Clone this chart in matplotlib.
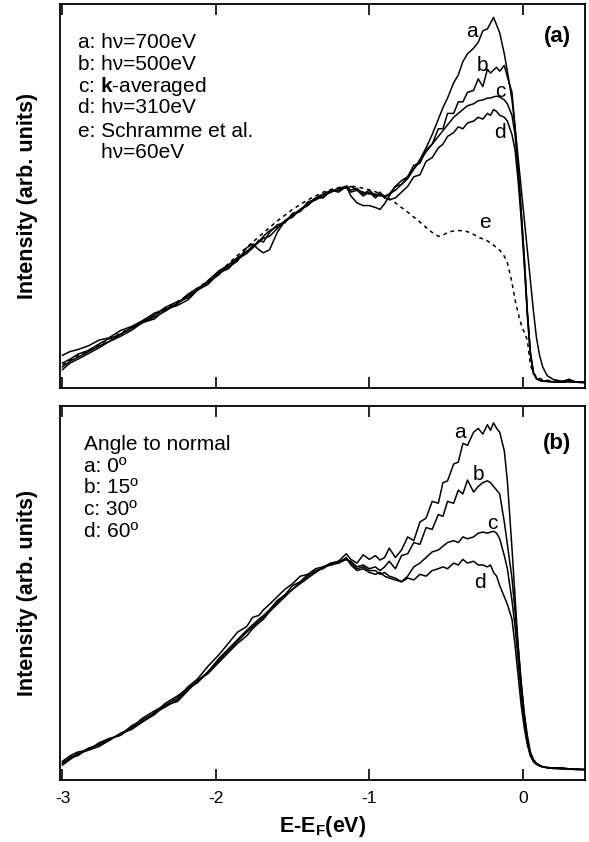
import matplotlib
matplotlib.use('Agg')
import matplotlib.pyplot as plt

plt.rcParams['font.family'] = ['Liberation Sans', 'DejaVu Sans']
plt.rcParams['mathtext.fontset'] = 'custom'
plt.rcParams['mathtext.rm'] = 'Liberation Sans'
plt.rcParams['mathtext.bf'] = 'Liberation Sans:bold'
plt.rcParams['axes.unicode_minus'] = False

# shared energy grid (eV, relative to E_F)
energy = [-3.00, -2.95, -2.90, -2.83, -2.76, -2.70, -2.62, -2.55, -2.48, -2.40,
          -2.33, -2.25, -2.18, -2.12, -2.05, -1.98, -1.92, -1.86, -1.80, -1.76,
          -1.72, -1.69, -1.65, -1.60, -1.55, -1.50, -1.45, -1.40, -1.35, -1.30,
          -1.25, -1.20, -1.15, -1.12, -1.08, -1.04, -1.00, -0.96, -0.93, -0.90,
          -0.87, -0.83, -0.79, -0.75, -0.71, -0.67, -0.63, -0.59, -0.55, -0.52,
          -0.49, -0.45, -0.42, -0.39, -0.36, -0.32, -0.29, -0.26, -0.23, -0.21,
          -0.19, -0.17, -0.15, -0.12, -0.10, -0.07, -0.05, -0.03, -0.01, 0.01,
          0.03, 0.05, 0.07, 0.09, 0.11, 0.13, 0.16, 0.20, 0.25, 0.30,
          0.35, 0.40]

# panel (a): photon energy dependence
top_a = [8.5, 9.5, 10.0, 11.0, 12.5, 13.0, 15.0, 16.0, 17.5, 19.5,
         20.5, 22.0, 24.5, 26.0, 27.5, 30.0, 31.5, 33.0, 36.5, 37.5,
         36.0, 35.2, 36.0, 40.5, 43.5, 44.5, 46.5, 47.5, 49.5, 50.5,
         51.0, 52.0, 52.5, 50.0, 48.2, 47.5, 47.5, 47.0, 46.5, 48.0,
         50.0, 52.5, 53.0, 54.5, 57.0, 59.5, 62.5, 66.0, 70.0, 73.0,
         75.5, 79.5, 81.5, 85.0, 87.0, 88.5, 90.0, 93.0, 93.5, 95.0,
         96.5, 94.5, 92.5, 87.0, 82.5, 75.0, 68.0, 60.0, 52.0, 44.0,
         36.0, 28.0, 20.0, 13.0, 8.5, 5.5, 3.2, 2.2, 1.8, 1.9,
         1.6, 1.6]
top_b = [6.5, 7.5, 8.8, 9.8, 11.5, 12.8, 14.0, 15.8, 17.0, 19.0,
         21.0, 22.5, 23.5, 25.5, 28.0, 30.5, 32.0, 33.5, 35.5, 36.5,
         38.0, 39.0, 39.5, 41.5, 43.5, 45.0, 46.0, 48.5, 49.0, 50.5,
         51.5, 51.5, 52.5, 51.5, 52.0, 50.5, 51.5, 50.0, 51.0, 49.5,
         50.5, 52.5, 54.0, 55.0, 58.0, 58.5, 62.0, 63.5, 67.5, 67.5,
         71.5, 71.5, 74.5, 74.5, 77.0, 77.5, 80.5, 78.5, 83.0, 82.0,
         82.8, 83.5, 82.5, 84.0, 81.0, 77.0, 68.0, 57.0, 46.0, 34.0,
         20.0, 9.0, 4.0, 2.5, 2.0, 1.8, 1.7, 1.6, 1.5, 2.3,
         1.5, 1.4]
top_c = [5.5, 7.0, 8.0, 9.5, 11.0, 12.0, 14.0, 15.5, 17.0, 18.5,
         20.0, 22.0, 24.0, 25.5, 27.5, 29.5, 32.0, 34.0, 35.5, 37.0,
         38.0, 39.5, 41.0, 42.0, 43.5, 45.0, 46.5, 48.0, 49.0, 50.0,
         51.0, 52.0, 52.0, 52.5, 51.5, 51.0, 50.5, 50.5, 50.0, 50.0,
         50.5, 51.5, 53.0, 55.0, 57.0, 59.0, 61.5, 63.5, 65.5, 67.0,
         68.5, 70.5, 71.5, 72.5, 73.5, 74.0, 74.8, 75.0, 75.5, 75.5,
         75.8, 76.0, 75.8, 75.0, 74.0, 71.0, 66.0, 57.0, 46.0, 34.0,
         20.0, 9.5, 4.0, 2.5, 2.0, 1.8, 1.7, 1.6, 1.5, 1.6,
         1.5, 1.4]
top_d = [4.8, 6.5, 7.5, 9.0, 10.5, 12.0, 13.5, 15.0, 17.0, 18.0,
         20.5, 21.5, 23.0, 25.5, 27.0, 30.0, 31.0, 33.5, 35.0, 36.5,
         38.5, 38.0, 40.5, 42.5, 43.0, 45.5, 46.0, 48.0, 49.5, 49.5,
         51.5, 51.0, 52.5, 51.0, 51.5, 50.0, 51.0, 49.5, 50.5, 49.5,
         49.0, 49.5, 51.0, 52.5, 55.0, 55.5, 59.0, 60.0, 62.5, 63.5,
         65.5, 66.5, 68.0, 67.5, 69.0, 69.5, 70.5, 70.0, 71.5, 71.0,
         72.5, 72.0, 71.0, 70.5, 69.5, 66.0, 62.0, 54.0, 44.0, 32.0,
         19.0, 8.5, 3.8, 2.4, 2.0, 1.8, 1.8, 1.6, 1.6, 1.7,
         1.5, 1.5]
top_e = [6.0, 7.2, 8.3, 9.8, 11.3, 12.6, 14.3, 15.8, 17.3, 19.0,
         20.6, 22.5, 24.2, 26.0, 28.0, 30.2, 32.3, 34.5, 36.6, 38.0,
         39.4, 40.4, 41.8, 43.5, 45.0, 46.5, 47.8, 49.0, 50.0, 51.0,
         51.7, 52.2, 52.5, 52.5, 52.4, 52.0, 51.6, 51.1, 50.6, 50.0,
         49.3, 48.2, 47.0, 45.8, 44.5, 43.2, 41.8, 40.5, 39.5, 39.8,
         40.5, 40.9, 41.0, 40.9, 40.7, 40.0, 39.3, 38.8, 38.3, 37.8,
         37.2, 36.5, 35.9, 34.3, 32.6, 27.5, 23.0, 19.5, 16.5, 14.5,
         12.5, 6.0, 3.8, 3.0, 2.5, 2.2, 2.0, 1.8, 1.7, 1.6,
         1.6, 1.5]

# panel (b): emission angle dependence
bot_a = [4.5, 6.0, 7.0, 8.5, 9.5, 10.5, 12.5, 14.0, 16.5, 18.5,
         20.0, 22.0, 25.0, 27.0, 30.5, 33.5, 36.5, 39.5, 41.0, 43.5,
         44.0, 45.5, 47.0, 49.0, 51.0, 52.5, 54.5, 55.0, 56.5, 57.0,
         58.0, 58.5, 60.5, 59.0, 58.0, 60.2, 59.0, 60.0, 58.8, 59.5,
         62.0, 59.5, 61.5, 65.0, 64.0, 69.0, 70.0, 74.5, 74.0, 79.5,
         80.0, 84.5, 85.0, 90.0, 89.5, 93.0, 94.0, 92.5, 95.0, 93.5,
         95.5, 94.0, 93.0, 88.0, 80.0, 62.0, 49.0, 36.0, 26.0, 18.0,
         12.0, 7.5, 5.5, 4.5, 4.0, 3.6, 3.4, 3.2, 3.3, 3.0,
         3.0, 2.8]
bot_b = [5.0, 6.5, 7.5, 8.0, 10.0, 11.0, 12.0, 14.5, 16.0, 18.0,
         20.5, 22.5, 24.5, 26.5, 29.0, 32.5, 35.0, 37.5, 40.0, 41.5,
         43.0, 44.0, 45.5, 48.0, 49.5, 52.0, 53.0, 55.0, 55.5, 57.0,
         57.5, 58.5, 59.0, 58.5, 57.0, 57.5, 56.5, 57.0, 56.0, 57.0,
         58.5, 56.5, 60.0, 60.5, 63.5, 63.0, 67.5, 67.0, 71.0, 70.5,
         74.5, 74.0, 77.5, 76.5, 80.2, 77.0, 78.5, 79.5, 80.0, 79.5,
         78.5, 77.5, 76.5, 69.0, 63.0, 54.0, 45.0, 36.0, 26.0, 17.5,
         11.0, 7.0, 5.0, 4.2, 3.8, 3.5, 3.3, 3.1, 3.2, 3.0,
         2.9, 2.8]
bot_c = [4.0, 5.5, 7.0, 8.0, 9.0, 10.5, 12.5, 13.5, 15.5, 18.0,
         19.5, 21.5, 24.5, 26.0, 29.0, 32.0, 34.5, 37.0, 39.5, 41.0,
         42.5, 43.5, 45.5, 47.5, 49.5, 51.0, 53.0, 54.5, 56.0, 56.5,
         58.0, 58.0, 59.0, 58.0, 56.5, 57.0, 56.0, 56.0, 55.0, 55.5,
         54.5, 54.0, 53.0, 54.5, 57.0, 58.0, 59.5, 61.0, 61.5, 62.5,
         63.5, 64.0, 63.5, 65.0, 64.5, 65.0, 66.0, 66.3, 66.0, 66.3,
         66.5, 66.0, 64.5, 60.0, 56.5, 48.0, 41.0, 32.0, 23.0, 15.5,
         10.0, 6.5, 5.0, 4.2, 3.8, 3.5, 3.3, 3.1, 3.0, 3.0,
         2.8, 2.8]
bot_d = [4.5, 6.0, 6.5, 8.5, 9.5, 11.0, 12.0, 14.0, 15.5, 17.5,
         20.0, 21.0, 24.0, 26.5, 28.5, 31.5, 34.0, 36.5, 38.5, 40.5,
         42.0, 43.0, 45.0, 47.0, 49.0, 51.0, 52.5, 54.0, 55.5, 57.0,
         57.5, 58.0, 59.5, 57.5, 56.0, 56.5, 55.5, 55.0, 55.5, 54.5,
         54.0, 53.5, 53.0, 54.0, 53.5, 55.0, 54.5, 56.0, 56.5, 57.0,
         56.5, 58.0, 57.5, 59.0, 58.0, 58.5, 57.5, 57.5, 57.0, 57.5,
         55.5, 54.5, 52.0, 49.0, 47.0, 43.0, 36.0, 28.0, 20.0, 14.0,
         9.5, 6.5, 5.0, 4.3, 3.8, 3.5, 3.3, 3.2, 3.0, 2.9,
         2.8, 2.8]

top_legend = ['a: h\u03bd=700eV', 'b: h\u03bd=500eV', r'c: $\mathbf{k}$-averaged',
              'd: h\u03bd=310eV', 'e: Schramme et al.', '    h\u03bd=60eV']
bot_legend = ['Angle to normal', 'a: 0\u00ba', 'b: 15\u00ba', 'c: 30\u00ba', 'd: 60\u00ba']

# curve tags: (letter, energy, intensity)
top_tags = [('a', -0.33, 92.7), ('b', -0.265, 84.1), ('c', -0.148, 77.1),
            ('d', -0.148, 66.4), ('e', -0.246, 43.0)]
bot_tags = [('a', -0.409, 92.8), ('b', -0.291, 81.6), ('c', -0.20, 68.7),
            ('d', -0.278, 52.9)]

fig = plt.figure(figsize=(5.89, 8.42), dpi=100)
ax1 = fig.add_axes([0.1019, 0.5392, 0.8913, 0.4561])
ax2 = fig.add_axes([0.1019, 0.0736, 0.8913, 0.4442])

lw = 1.1
for ys in (top_a, top_b, top_c, top_d):
    ax1.plot(energy, ys, color='black', lw=lw)
ax1.plot(energy, top_e, color='black', lw=lw, dashes=(2.5, 2.5))
for ys in (bot_a, bot_b, bot_c, bot_d):
    ax2.plot(energy, ys, color='black', lw=lw)

for ax in (ax1, ax2):
    ax.set_xlim(-3.016, 0.406)
    ax.set_ylim(0, 100)
    ax.set_xticks([-3, -2, -1, 0])
    ax.set_yticks([])
    ax.tick_params(axis='x', direction='in', length=8, width=1.2, top=True,
                   labelsize=12.5, pad=8)
    for s in ax.spines.values():
        s.set_linewidth(1.3)
    ax.set_ylabel('Intensity (arb. units)', fontsize=15.5, fontweight='bold')
    ax.yaxis.set_label_coords(-0.042, 0.5)
ax1.set_xticklabels([])
ax2.set_xlabel(r'E-E$_\mathbf{F}$(eV)', fontsize=15.5, fontweight='bold', labelpad=6)

top_base = [0.885, 0.828, 0.771, 0.715, 0.653, 0.598]
for txt, yb in zip(top_legend, top_base):
    ax1.text(0.034, yb, txt, transform=ax1.transAxes, fontsize=15, va='baseline')
bot_base = [0.882, 0.824, 0.767, 0.709, 0.651]
for txt, yb in zip(bot_legend, bot_base):
    ax2.text(0.046, yb, txt, transform=ax2.transAxes, fontsize=15, va='baseline')

for t, x, y in top_tags:
    ax1.text(x, y, t, fontsize=15, ha='center', va='center')
for t, x, y in bot_tags:
    ax2.text(x, y, t, fontsize=15, ha='center', va='center')

ax1.text(0.947, 0.914, '(a)', transform=ax1.transAxes, fontsize=16,
         fontweight='bold', ha='center', va='center')
ax2.text(0.947, 0.901, '(b)', transform=ax2.transAxes, fontsize=16,
         fontweight='bold', ha='center', va='center')

fig.savefig('out.png', dpi=100)
